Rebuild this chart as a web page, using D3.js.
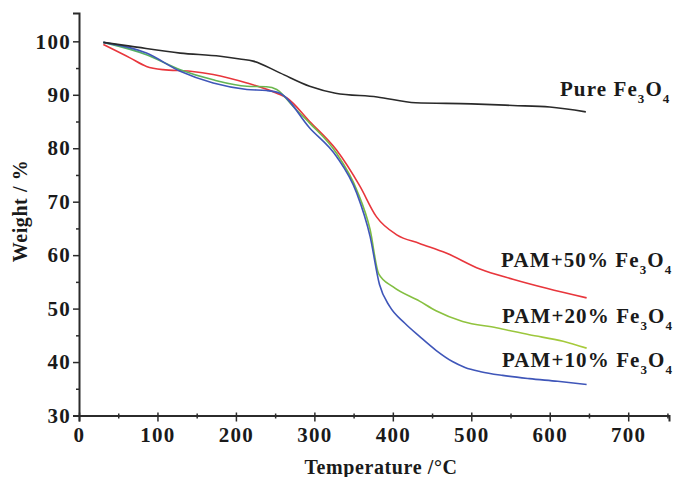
<!DOCTYPE html>
<html>
<head>
<meta charset="utf-8">
<script src="https://cdn.jsdelivr.net/npm/d3@7"></script>
<style>
    body { margin: 0; background: #fff; }
    svg { display: block; }
    text { font-family: "Liberation Serif", "Times New Roman", serif; font-weight: bold; fill: #1a1a1a; }
</style>
</head>
<body>
<svg id="chart"></svg>
<script>
// TGA curves
const pureT = [31, 65, 129, 180, 205, 222, 256, 294, 327, 380, 429, 500, 553, 600, 646];
const pureW = [99.8, 99.1, 97.8, 97.2, 96.7, 96.3, 94.1, 91.6, 90.3, 89.6, 88.5, 88.3, 88.0, 87.7, 86.8];

const pam50T = [31, 65, 86, 107, 142, 171, 214, 252, 265, 294, 328, 358, 379, 405, 434, 468, 511, 553, 596, 647];
const pam50W = [99.4, 96.9, 95.3, 94.7, 94.4, 93.8, 92.2, 90.3, 89.4, 85.0, 79.7, 72.9, 67.2, 63.8, 62.2, 60.4, 57.4, 55.5, 53.8, 52.0];

const pam20T = [31, 86, 129, 171, 214, 239, 252, 273, 294, 328, 354, 371, 382, 400, 434, 455, 489, 532, 574, 617, 647];
const pam20W = [99.8, 97.5, 94.7, 92.8, 91.6, 91.5, 91.0, 87.8, 84.7, 79.1, 72.2, 64.8, 56.5, 54.1, 51.4, 49.6, 47.6, 46.4, 45.1, 43.9, 42.6];

const pam10T = [31, 86, 129, 171, 214, 239, 256, 294, 328, 354, 371, 383, 396, 415, 434, 455, 476, 492, 512, 540, 574, 610, 647];
const pam10W = [99.8, 97.8, 94.4, 92.2, 91.0, 90.8, 90.3, 83.8, 78.5, 71.6, 63.5, 54.5, 50.4, 47.3, 44.8, 42.2, 40.1, 39.0, 38.2, 37.5, 36.9, 36.4, 35.8];

const xTicks = [0, 100, 200, 300, 400, 500, 600, 700];
const yTicks = [30, 40, 50, 60, 70, 80, 90, 100];

// label: prefix text, anchor temperature / weight
const labelText = ['Pure ', 'PAM+50% ', 'PAM+20% ', 'PAM+10% '];
const labelT = [613, 538, 539, 539];
const labelW = [89.7, 57.8, 47.3, 39.1];

const width = 676;
const height = 477;

const svg = d3.select('#chart')
    .attr('width', width)
    .attr('height', height);

const x = d3.scaleLinear().domain([0, 752]).range([79, 669]);
const y = d3.scaleLinear().domain([30, 105.3]).range([415.5, 13]);

// green goes teal -> yellow-green along the curve
const defs = svg.append('defs');
const grad = defs.append('linearGradient')
    .attr('id', 'greenGrad')
    .attr('gradientUnits', 'userSpaceOnUse')
    .attr('x1', x(30)).attr('x2', x(650))
    .attr('y1', 0).attr('y2', 0);
grad.append('stop').attr('offset', '0%').attr('stop-color', '#4fae6a');
grad.append('stop').attr('offset', '45%').attr('stop-color', '#72b944');
grad.append('stop').attr('offset', '100%').attr('stop-color', '#a9cb3a');

// axes
svg.append('g')
    .attr('transform', `translate(${x(0)},0)`)
    .call(d3.axisLeft(y).tickValues(yTicks).tickSize(6).tickPadding(2));
svg.append('g')
    .attr('transform', `translate(${x(0)},0)`)
    .call(d3.axisLeft(y).tickValues(d3.range(35, 101, 10)).tickSize(3).tickFormat(''))
    .select('.domain').remove();

const xAxis = svg.append('g')
    .attr('transform', `translate(0,${y(30)})`)
    .call(d3.axisBottom(x).tickValues(xTicks).tickSize(6).tickPadding(6));
xAxis.selectAll('.tick line').attr('y1', -3);
const xMinor = svg.append('g')
    .attr('transform', `translate(0,${y(30)})`)
    .call(d3.axisBottom(x).tickValues(d3.range(50, 751, 100)).tickSize(3).tickFormat(''));
xMinor.select('.domain').remove();
xMinor.selectAll('.tick line').attr('y1', -2);

svg.selectAll('.domain')
    .attr('stroke', '#2b2b2b')
    .attr('stroke-width', 2);
svg.selectAll('.tick line')
    .attr('stroke', '#2b2b2b')
    .attr('stroke-width', 1.5);
svg.selectAll('.tick text')
    .style('font-family', '"Liberation Serif", serif')
    .style('font-weight', 'bold')
    .style('font-size', '21px')
    .style('letter-spacing', '1.3px')
    .attr('fill', '#1a1a1a');

// axis titles
svg.append('text')
    .attr('x', 381)
    .attr('y', 474)
    .attr('text-anchor', 'middle')
    .style('font-size', '20px')
    .style('letter-spacing', '0.6px')
    .text('Temperature /°C');

svg.append('text')
    .attr('transform', 'translate(27,211) rotate(-90)')
    .attr('text-anchor', 'middle')
    .style('font-size', '20px')
    .style('letter-spacing', '0.6px')
    .text('Weight / %');

// curves
const series = [
    { t: pureT, w: pureW, color: '#2a2a2a' },
    { t: pam50T, w: pam50W, color: '#e8363c' },
    { t: pam20T, w: pam20W, color: 'url(#greenGrad)' },
    { t: pam10T, w: pam10W, color: '#3f56b9' }
];

const line = d3.line()
    .x(d => x(d[0]))
    .y(d => y(d[1]))
    .curve(d3.curveMonotoneX);

// draw order: red under blue/green as in the picture
[1, 2, 3, 0].forEach(i => {
    const s = series[i];
    svg.append('path')
        .datum(s.t.map((t, j) => [t, s.w[j]]))
        .attr('fill', 'none')
        .attr('stroke', s.color)
        .attr('stroke-width', 1.6)
        .attr('d', line);
});

// curve labels
labelText.forEach((txt, i) => {
    const lab = svg.append('text')
        .attr('x', x(labelT[i]))
        .attr('y', y(labelW[i]))
        .style('font-size', '21px')
        .style('letter-spacing', '1.1px');
    lab.append('tspan').text(txt + 'Fe');
    lab.append('tspan').attr('dy', 7).style('font-size', '13px').text('3');
    lab.append('tspan').attr('dy', -7).text('O');
    lab.append('tspan').attr('dy', 7).style('font-size', '13px').text('4');
});
</script>
</body>
</html>
